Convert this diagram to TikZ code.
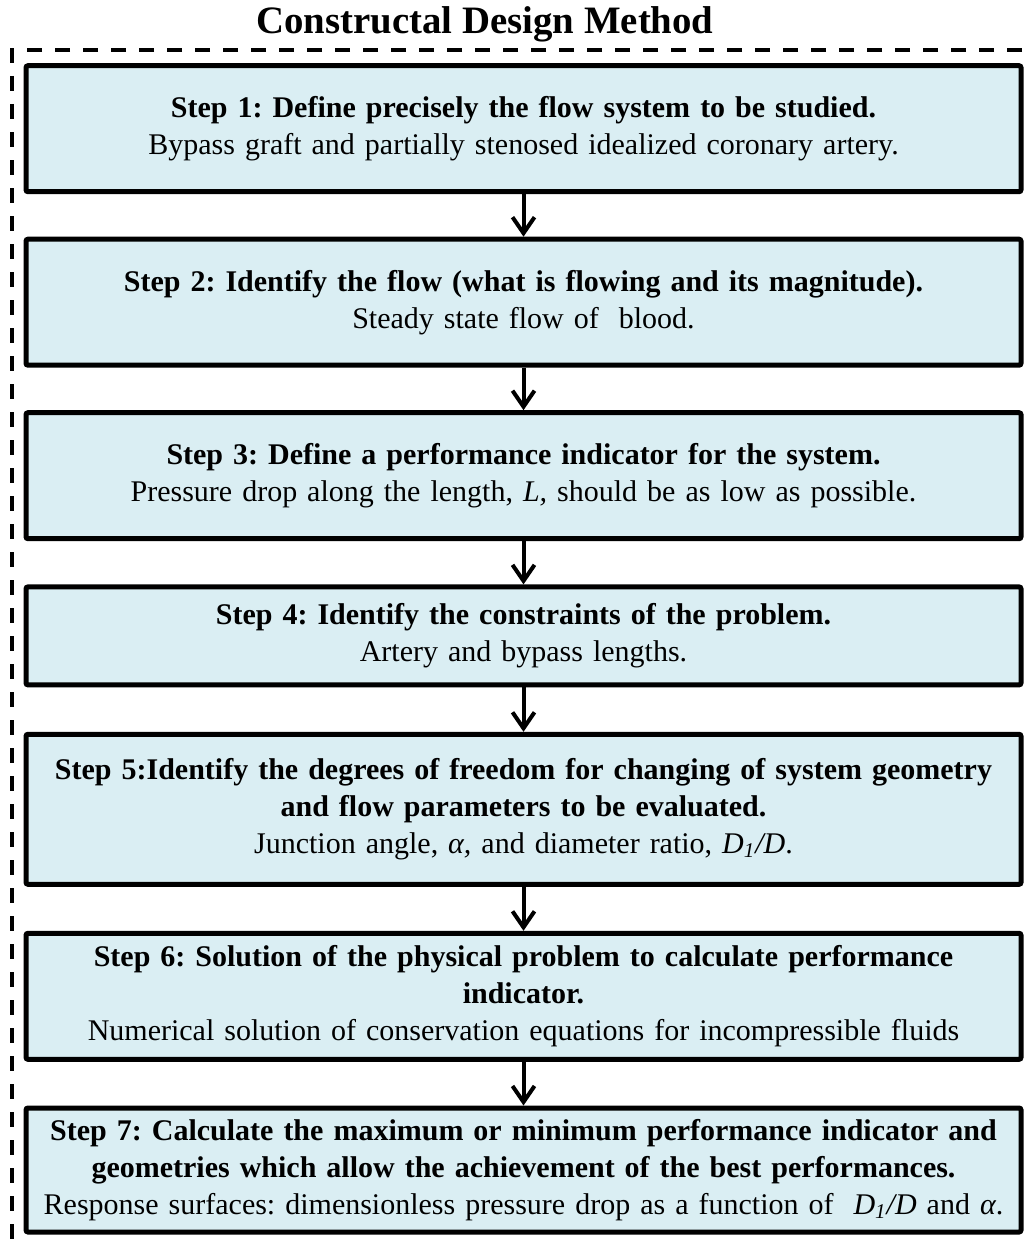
\documentclass[tikz,border=0pt]{standalone}
\usepackage{fontspec}
\setmainfont{Liberation Serif}
\usepackage{tikz}
\usetikzlibrary{arrows.meta}
\definecolor{stepfill}{RGB}{218,238,243}
\frenchspacing

\begin{document}
\begin{tikzpicture}[x=0.5pt, y=-0.5pt,
	stepbox/.style={draw, line width=2.5pt, fill=stepfill, rounded corners=1pt,
		minimum width=497.5pt, text width=485pt, align=center,
		font=\fontsize{15}{18.5}\selectfont},
	flow/.style={line width=2pt, -{Straight Barb[length=8pt, width=11pt, line width=2pt]}},
	frame/.style={line width=1.75pt, dash pattern=on 7.5pt off 6.5pt}]
	\useasboundingbox (0,0) rectangle (1030,1247);

	\node[font=\fontsize{19.4}{22}\selectfont\bfseries] (title) at (485,24) {Constructal Design Method};
	\draw[frame] (1022,50) -- (12,50) -- (12,1260);

	\node[stepbox, minimum height=63pt] (s1) at (523.5,128.7)
		{\textbf{Step 1: Define precisely the flow system to be studied.}\\
		Bypass graft and partially stenosed idealized coronary artery.};
	\node[stepbox, minimum height=63pt] (s2) at (523.5,302.2)
		{\textbf{Step 2: Identify the flow (what is flowing and its magnitude).}\\
		Steady state flow of\ \ blood.};
	\node[stepbox, minimum height=63pt] (s3) at (523.5,475.7)
		{\textbf{Step 3: Define a performance indicator for the system.}\\
		Pressure drop along the length, \textit{L,} should be as low as possible.};
	\node[stepbox, minimum height=49pt] (s4) at (523.5,635.9)
		{\textbf{Step 4: Identify the constraints of the problem.}\\
		Artery and bypass lengths.};
	\node[stepbox, minimum height=75pt] (s5) at (523.5,809.3)
		{\textbf{Step 5:Identify the degrees of freedom for changing of system geometry\\
		and flow parameters to be evaluated.}\\
		Junction angle, \textit{α,} and diameter ratio, \textit{D\textsubscript{1}/D}.};
	\node[stepbox, minimum height=63pt] (s6) at (523.5,996.3)
		{\textbf{Step 6: Solution of the physical problem to calculate performance\\
		indicator.}\\
		Numerical solution of conservation equations for incompressible fluids};
	\node[stepbox, minimum height=62pt] (s7) at (523.5,1170)
		{\textbf{Step 7: Calculate the maximum or minimum performance indicator and\\
		geometries which allow the achievement of the best performances.}\\
		Response surfaces: dimensionless pressure drop as a function of\ \ \textit{D\textsubscript{1}/D} and \textit{α}.};

	% arrows between the steps
	\foreach \a/\b in {s1/s2, s2/s3, s3/s4, s4/s5, s5/s6, s6/s7}
	\draw[flow] (\a) -- (\b);
\end{tikzpicture}
\end{document}
